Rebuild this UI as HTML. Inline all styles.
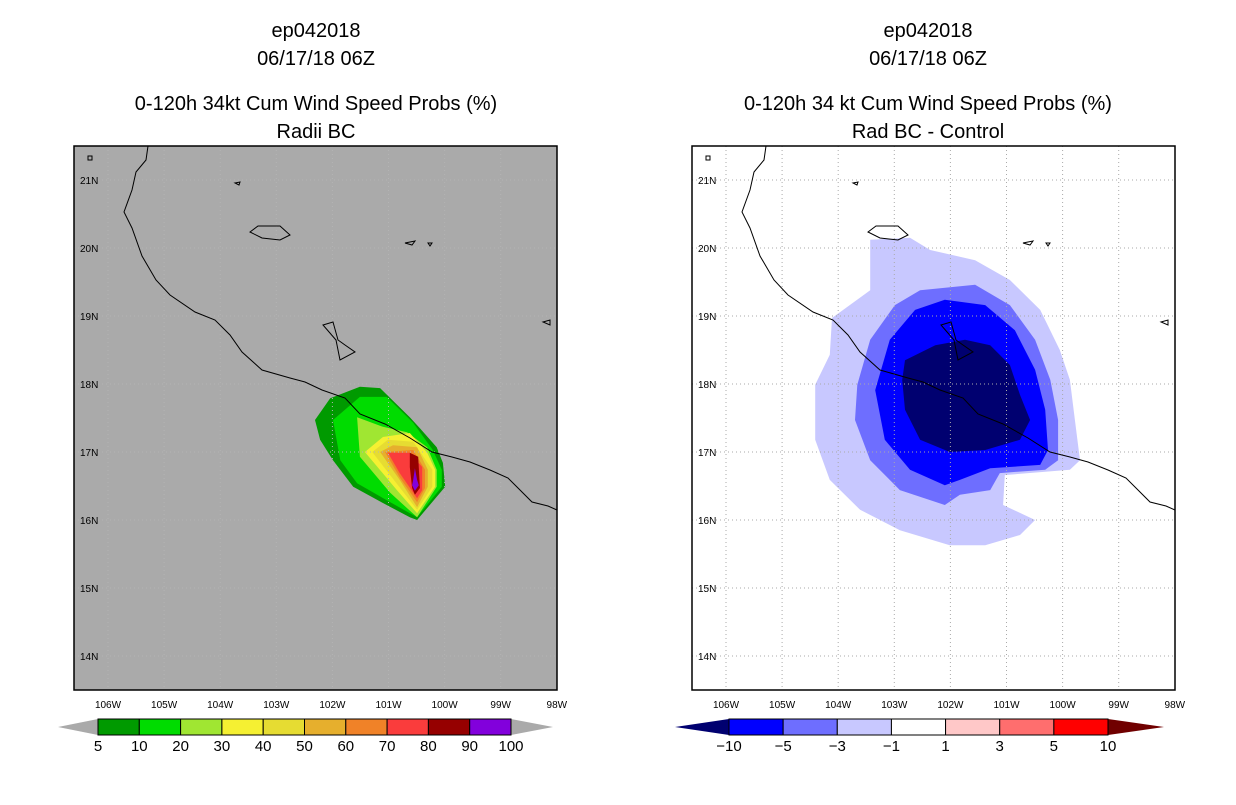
<!DOCTYPE html>
<html><head><meta charset="utf-8"><style>
body{margin:0;background:#fff;width:1236px;height:800px;overflow:hidden}
svg text{font-family:"Liberation Sans",sans-serif}
</style></head><body>
<svg id="s" width="1236" height="800" xmlns="http://www.w3.org/2000/svg">
<g font-size="20" text-anchor="middle" fill="#000">
<text x="316" y="37">ep042018</text>
<text x="316" y="65">06/17/18 06Z</text>
<text x="316" y="110">0-120h 34kt Cum Wind Speed Probs (%)</text>
<text x="316" y="138">Radii BC</text>
</g>
<g font-size="20" text-anchor="middle" fill="#000">
<text x="928" y="37">ep042018</text>
<text x="928" y="65">06/17/18 06Z</text>
<text x="928" y="110">0-120h 34 kt Cum Wind Speed Probs (%)</text>
<text x="928" y="138">Rad BC - Control</text>
</g>
</svg>
<script>
// ---- data ----
const lonTicks=[106,105,104,103,102,101,100,99,98];
const latTicks=[21,20,19,18,17,16,15,14];
const leftLevels=[5,10,20,30,40,50,60,70,80,90,100];
const leftColors=['#009a00','#00dc00','#a0e632','#f5f032','#e6dc32','#e6af2d','#f08228','#fa3c3c','#960000','#8200dc'];
const rightLevels=[-10,-5,-3,-1,1,3,5,10];
const rightColors=['#000070','#0000ff','#6e6eff','#c8c8ff','#ffffff','#ffc8c8','#ff6e6e','#ff0000','#700000'];
// contour polygons, [lonW, latN]
const c5=[[102.31,17.47],[102.04,17.79],[101.51,17.96],[101.15,17.94],[100.62,17.51],[100.44,17.35],[100.14,17.07],[100.03,16.84],[99.99,16.49],[100.49,16.0],[100.62,16.04],[101.10,16.25],[101.63,16.49],[101.99,16.88],[102.22,17.18]];
const c10=[[101.99,17.47],[101.51,17.81],[101.03,17.81],[100.56,17.43],[100.21,17.03],[100.05,16.74],[100.05,16.49],[100.49,16.04],[101.03,16.29],[101.56,16.54],[101.86,16.88]];
const c20=[[101.56,17.51],[101.10,17.37],[100.67,17.29],[100.31,17.07],[100.14,16.74],[100.14,16.49],[100.49,16.04],[100.97,16.40],[101.51,16.93]];
const c30=[[101.42,17.0],[101.10,17.22],[100.62,17.28],[100.31,16.99],[100.17,16.74],[100.17,16.49],[100.49,16.10],[100.85,16.44]];
const c40=[[101.29,17.0],[101.01,17.18],[100.56,17.15],[100.22,16.74],[100.22,16.49],[100.49,16.15],[100.83,16.51]];
const c50=[[101.15,17.0],[100.92,17.10],[100.49,17.07],[100.30,16.74],[100.30,16.49],[100.49,16.19],[100.80,16.59]];
const c60=[[101.06,17.0],[100.56,17.03],[100.35,16.74],[100.35,16.47],[100.49,16.26],[100.80,16.63]];
const c70=[[101.01,16.99],[100.62,16.99],[100.40,16.78],[100.40,16.44],[100.49,16.32],[100.80,16.69]];
const c80=[[100.62,16.99],[100.47,16.93],[100.44,16.47],[100.53,16.37],[100.58,16.47],[100.62,16.78]];
const c90=[[100.53,16.76],[100.49,16.59],[100.46,16.51],[100.53,16.43],[100.58,16.51],[100.56,16.59]];
const dM1=[[104.11,18.97],[103.43,19.38],[103.43,20.12],[102.72,20.15],[102.36,19.97],[101.56,19.82],[100.94,19.53],[100.40,19.09],[100.05,18.50],[99.87,18.06],[99.78,17.47],[99.69,16.88],[99.87,16.74],[101.03,16.66],[101.06,16.22],[100.49,16.0],[100.76,15.78],[101.38,15.63],[102.01,15.63],[102.90,15.85],[103.61,16.15],[104.15,16.59],[104.41,17.18],[104.41,17.99],[104.15,18.43]];
const dM3=[[103.66,17.99],[103.43,18.65],[102.99,19.16],[102.54,19.38],[101.56,19.46],[100.94,19.16],[100.49,18.65],[100.22,18.06],[100.08,17.47],[100.08,16.88],[100.31,16.74],[101.12,16.69],[101.29,16.44],[101.83,16.37],[102.10,16.22],[102.90,16.44],[103.43,16.88],[103.70,17.47]];
const dM5=[[103.34,17.91],[103.08,18.65],[102.63,19.09],[102.10,19.24],[101.38,19.16],[100.85,18.79],[100.49,18.21],[100.31,17.62],[100.26,17.03],[100.40,16.81],[101.29,16.76],[101.83,16.59],[102.10,16.51],[102.72,16.74],[103.17,17.18]];
const dM10=[[102.81,18.35],[102.27,18.57],[101.74,18.65],[101.29,18.57],[100.94,18.28],[100.76,17.84],[100.58,17.47],[100.76,17.18],[101.38,17.03],[102.01,17.0],[102.54,17.18],[102.81,17.62],[102.86,18.06]];
const leftPolys=[c5,c10,c20,c30,c40,c50,c60,c70,c80,c90];
const rightPolys=[dM1,dM3,dM5,dM10];
const rightPolyColors=['#c8c8ff','#6e6eff','#0000ff','#000070'];
// ---- geometry ----
const NS='http://www.w3.org/2000/svg';
const svg=document.getElementById('s');
const FY0=146,FY1=690,FW=483;
const panels=[{x0:74},{x0:692}];
function xs(p,lonW){return p.x0+34+(106-lonW)*56.1;}
function ys(lat){return 180+(21-lat)*68;}
function mk(tag,attrs,parent){const e=document.createElementNS(NS,tag);for(const k in attrs)e.setAttribute(k,attrs[k]);(parent||svg).appendChild(e);return e;}
const coast=[[148,146],[146,160],[136,172],[132,190],[124,212],[132,228],[142,256],[156,280],[170,295],[195,312],[215,320],[230,335],[242,352],[262,370],[290,378],[305,382],[322,390],[345,398],[360,414],[385,424],[410,438],[432,452],[452,457],[470,462],[490,470],[508,478],[520,490],[532,502],[548,506],[557,510]];
function drawPanel(p,i){
  const g=mk('g',{});
  
  
  const bg=mk('rect',{x:p.x0,y:FY0,width:FW,height:FY1-FY0,fill:i===0?'#aaaaaa':'#ffffff'},g);
  
  
  const polys=i===0?leftPolys:rightPolys;
  polys.forEach((poly,k)=>{
    const pts=poly.map(q=>xs(p,q[0]).toFixed(1)+','+ys(q[1]).toFixed(1)).join(' ');
    const e=mk('polygon',{points:pts,fill:i===0?leftColors[k]:rightPolyColors[k]},g);
    
    
  });
  const gc=i===0?'#b4b4b4':'#aaaaaa';
  lonTicks.slice(0,8).forEach(l=>{const gl=mk('line',{x1:xs(p,l),x2:xs(p,l),y1:FY0,y2:FY1,stroke:gc,'stroke-dasharray':'1,3','stroke-width':1},g);});
  latTicks.forEach(l=>{const gl=mk('line',{x1:p.x0,x2:p.x0+FW,y1:ys(l),y2:ys(l),stroke:gc,'stroke-dasharray':'1,3','stroke-width':1},g);});
  const cl=mk('polyline',{points:coast.map(c=>(c[0]-74+p.x0)+','+c[1]).join(' '),fill:'none',stroke:'#000','stroke-width':1},g);
  
  
  const isl=[[[250,232],[258,226],[280,226],[290,235],[280,240],[262,238]],[[323,325],[333,322],[338,340],[345,345],[355,352],[340,360],[336,340]],[[405,243],[415,241],[412,245]],[[235,183],[240,182],[239,185]],[[88,156],[92,156],[92,160],[88,160]],[[543,322],[550,320],[550,325]],[[428,243],[432,243],[430,246]]];
  isl.forEach(s=>{const e=mk('polygon',{points:s.map(c=>(c[0]-74+p.x0)+','+c[1]).join(' '),fill:'none',stroke:'#000','stroke-width':1},g);});
  const fr=mk('rect',{x:p.x0,y:FY0,width:FW,height:FY1-FY0,fill:'none',stroke:'#000','stroke-width':1.5},g);
  
  
  lonTicks.forEach(l=>{const t=mk('text',{x:xs(p,l),y:FY1+18,'font-size':10,'text-anchor':'middle'},g);t.textContent=l+'W';});
  latTicks.forEach(l=>{const t=mk('text',{x:p.x0+6,y:ys(l)+4,'font-size':10},g);t.textContent=l+'N';});
}
panels.forEach(drawPanel);
function colorbar(cfg){
  const g=mk('g',{});
  
  
  const y0=719,y1=735,ym=727;
  const n=cfg.colors.length-2;
  const w=(cfg.b1-cfg.b0)/n;
  const lt=mk('polygon',{points:`${cfg.t0},${ym} ${cfg.b0},${y0} ${cfg.b0},${y1}`,fill:cfg.colors[0]},g);
  
  const rt=mk('polygon',{points:`${cfg.t1},${ym} ${cfg.b1},${y0} ${cfg.b1},${y1}`,fill:cfg.colors[n+1]},g);
  
  for(let k=0;k<n;k++){const r=mk('rect',{x:cfg.b0+k*w,y:y0,width:w,height:y1-y0,fill:cfg.colors[k+1],stroke:'#000','stroke-width':1},g);}
  cfg.labels.forEach((lb,k)=>{const t=mk('text',{x:cfg.lb0+k*w,y:751,'font-size':15,'text-anchor':'middle'},g);t.textContent=String(lb).replace('-','\u2212');});
}
colorbar({name:'left-colorbar',t0:58,b0:98,b1:511,t1:553,colors:['#aaaaaa'].concat(leftColors,['#aaaaaa']),labels:leftLevels,lb0:98});
colorbar({name:'right-colorbar',t0:675,b0:729,b1:1108,t1:1164,colors:rightColors,labels:rightLevels,lb0:729});
</script>
</body></html>
